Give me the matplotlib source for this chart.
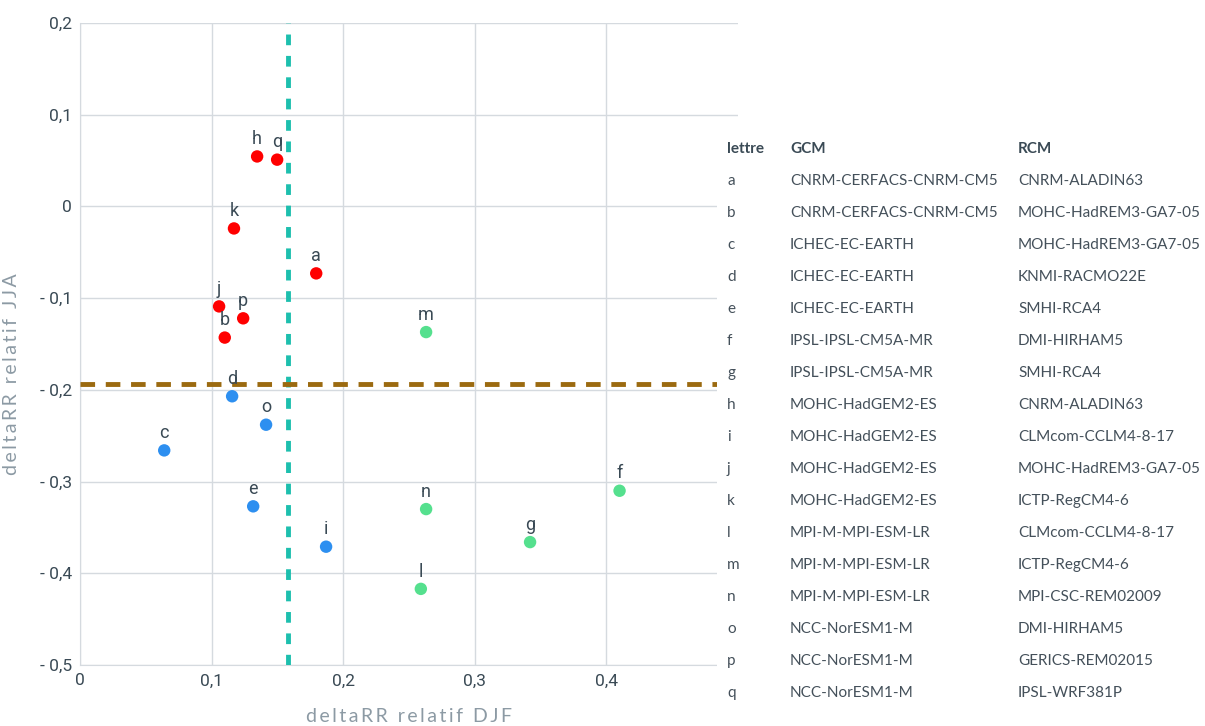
import matplotlib.pyplot as plt
import matplotlib.patches as mpatches
import matplotlib.ticker as ticker

letters = ['a', 'b', 'c', 'd', 'e', 'f', 'g', 'h', 'i', 'j', 'k', 'l', 'm', 'n', 'o', 'p', 'q']
djf = [0.1795, 0.110, 0.064, 0.1156, 0.1316, 0.410, 0.342, 0.1346, 0.187,
       0.1057, 0.117, 0.259, 0.263, 0.263, 0.1414, 0.124, 0.1498]
jja = [-0.073, -0.143, -0.266, -0.207, -0.327, -0.310, -0.366, 0.0545, -0.371,
       -0.109, -0.024, -0.417, -0.137, -0.330, -0.238, -0.122, 0.051]
groups = ['r', 'r', 'b', 'b', 'b', 'g', 'g', 'r', 'b',
          'r', 'r', 'g', 'g', 'g', 'b', 'r', 'r']
gcm = ['CNRM-CERFACS-CNRM-CM5', 'CNRM-CERFACS-CNRM-CM5', 'ICHEC-EC-EARTH',
       'ICHEC-EC-EARTH', 'ICHEC-EC-EARTH', 'IPSL-IPSL-CM5A-MR', 'IPSL-IPSL-CM5A-MR',
       'MOHC-HadGEM2-ES', 'MOHC-HadGEM2-ES', 'MOHC-HadGEM2-ES', 'MOHC-HadGEM2-ES',
       'MPI-M-MPI-ESM-LR', 'MPI-M-MPI-ESM-LR', 'MPI-M-MPI-ESM-LR',
       'NCC-NorESM1-M', 'NCC-NorESM1-M', 'NCC-NorESM1-M']
rcm = ['CNRM-ALADIN63', 'MOHC-HadREM3-GA7-05', 'MOHC-HadREM3-GA7-05', 'KNMI-RACMO22E',
       'SMHI-RCA4', 'DMI-HIRHAM5', 'SMHI-RCA4', 'CNRM-ALADIN63', 'CLMcom-CCLM4-8-17',
       'MOHC-HadREM3-GA7-05', 'ICTP-RegCM4-6', 'CLMcom-CCLM4-8-17', 'ICTP-RegCM4-6',
       'MPI-CSC-REM02009', 'DMI-HIRHAM5', 'GERICS-REM02015', 'IPSL-WRF381P']
djf_threshold = 0.158
jja_threshold = -0.194

_colors = {'r': '#FF0000', 'b': '#2D8FF0', 'g': '#55E08E'}
text_col = '#3A4A55'
label_col = '#8C9AA4'

plt.rcParams['font.family'] = ['Roboto', 'DejaVu Sans']

W, H = 1205, 726
fig = plt.figure(figsize=(W / 100, H / 100), dpi=100)
ax = fig.add_axes([80 / W, 1 - 665 / H, (738 - 80) / W, (665 - 23) / H])

ax.grid(which='major', axis='both', color='#D5DADF', linewidth=1, zorder=1)
for s in ['top', 'right']:
    ax.spines[s].set_visible(False)
for s in ['left', 'bottom']:
    ax.spines[s].set_color('#D5DADF')

ax.scatter(djf, jja, s=80, c=[_colors[g] for g in groups], zorder=4, linewidths=0)
for l, x, y in zip(letters, djf, jja):
    ax.annotate(l, (x, y), xytext=(0, 6), textcoords='offset points', ha='center',
                va='bottom', fontsize=13, color=text_col, zorder=5)

ax.axvline(djf_threshold, color='#1DBFAE', linestyle=(0, (2.2, 2.2)), linewidth=3.5, zorder=3)
ax.axhline(jja_threshold, color='#9B6A10', linestyle=(0, (3, 2.2)), linewidth=3.5, zorder=3)

ax.set_xlim(0, 0.5)
ax.set_ylim(-0.5, 0.2)
ax.set_xticks([0, 0.1, 0.2, 0.3, 0.4])
ax.set_yticks([-0.5, -0.4, -0.3, -0.2, -0.1, 0, 0.1, 0.2])


def fr_fmt(v, pos):
    if abs(v) < 1e-9:
        return '0'
    s = ('%.1f' % abs(v)).replace('.', ',')
    return ('- ' + s) if v < 0 else s


ax.xaxis.set_major_formatter(ticker.FuncFormatter(fr_fmt))
ax.yaxis.set_major_formatter(ticker.FuncFormatter(fr_fmt))
ax.tick_params(axis='both', length=0, labelsize=12.5, labelcolor=text_col, pad=6)


def spaced(s):
    # letter-spaced label text
    return '\u2009'.join(s)


ax.set_xlabel(spaced('deltaRR relatif DJF'), fontsize=14, color=label_col, labelpad=14,
              fontfamily=['Lato', 'DejaVu Sans'])
ax.set_ylabel(spaced('deltaRR relatif JJA'), fontsize=14, color=label_col,
              fontfamily=['Lato', 'DejaVu Sans'])
ax.yaxis.set_label_coords(-60 / (738 - 80), 0.453)

# table covering the right part of the plot
fig.add_artist(mpatches.Rectangle((717 / W, 0), 1, 1 - 128 / H, transform=fig.transFigure,
                                  facecolor='white', edgecolor='none', zorder=10))


def fy(py):
    return 1 - py / H


tcol = '#44505A'
fig.text(727 / W, fy(149), 'lettre', fontsize=11, fontweight='bold', color=text_col,
         va='center', fontfamily='Lato', zorder=11)
fig.text(790 / W, fy(149), 'GCM', fontsize=11, fontweight='bold', color=text_col,
         va='center', fontfamily='Lato', zorder=11)
fig.text(1018 / W, fy(149), 'RCM', fontsize=11, fontweight='bold', color=text_col,
         va='center', fontfamily='Lato', zorder=11)
for i, (l, g, r) in enumerate(zip(letters, gcm, rcm)):
    py = 181 + 32 * i
    fig.text(727 / W, fy(py), l, fontsize=11, color=tcol, va='center',
             fontfamily='Lato', zorder=11)
    fig.text(790 / W, fy(py), g, fontsize=11, color=tcol, va='center',
             fontfamily='Lato', zorder=11)
    fig.text(1018 / W, fy(py), r, fontsize=11, color=tcol, va='center',
             fontfamily='Lato', zorder=11)

fig.savefig('out.png', dpi=100)
